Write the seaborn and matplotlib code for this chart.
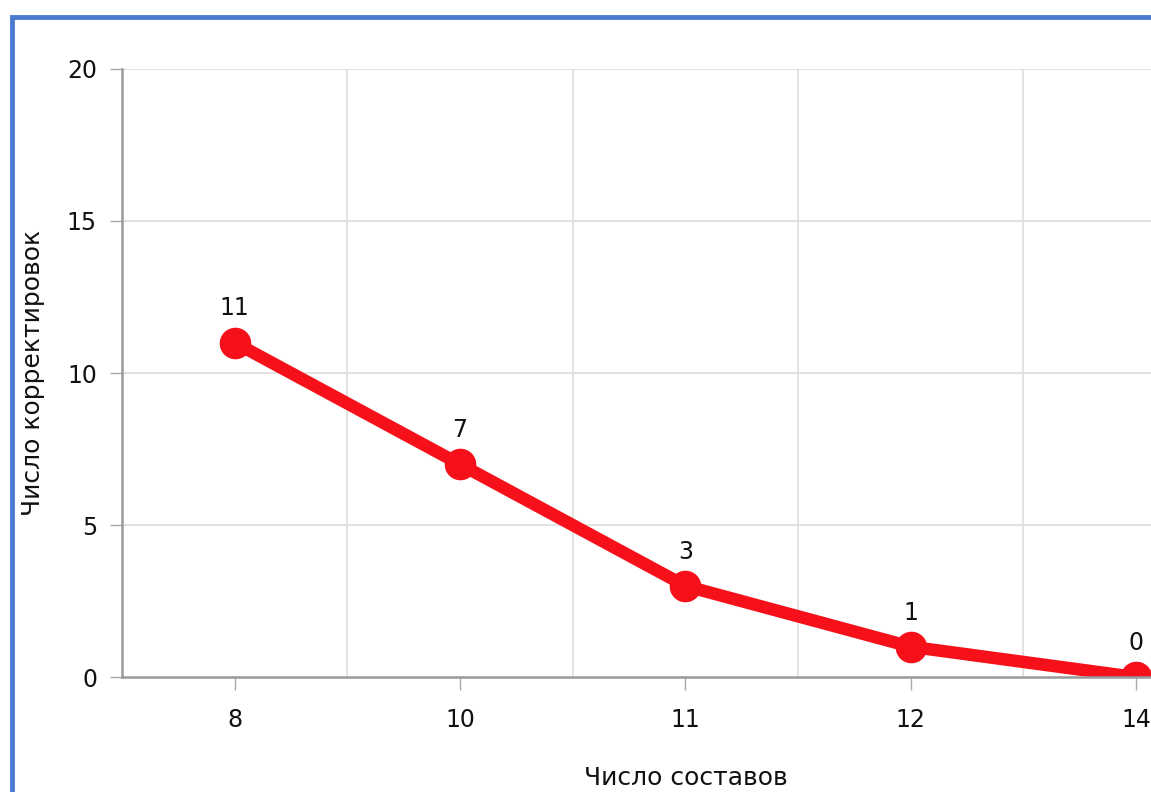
import matplotlib
matplotlib.use("Agg")
import matplotlib.pyplot as plt
import seaborn as sns
import pandas as pd
from matplotlib.patches import Rectangle

# data
sostavy = ["8", "10", "11", "12", "14"]
korrektirovki = [11, 7, 3, 1, 0]

df = pd.DataFrame({"Число составов": sostavy, "Число корректировок": korrektirovki})

sns.set_style("white")
plt.rcParams["font.family"] = ["DejaVu Sans"]

fig = plt.figure(figsize=(11.51, 7.92), dpi=100)
# axes runs past the right edge, as in the cropped reference
ax = fig.add_axes([0.106, 0.145, 0.979, 0.768])

sns.pointplot(data=df, x="Число составов", y="Число корректировок", color="#f5101a",
              markersize=16, linewidth=9, ax=ax)

ax.set_xlim(-0.5, 4.5)
ax.set_ylim(0, 20)
ax.set_yticks([0, 5, 10, 15, 20])

# grid lines between the categories and at the y ticks
for xb in [0.5, 1.5, 2.5, 3.5, 4.5]:
    ax.axvline(xb, color="#dddddd", lw=1.2, zorder=0)
for yv in [5, 10, 15, 20]:
    ax.axhline(yv, color="#dddddd", lw=1.2, zorder=0)

for s in ["top", "right"]:
    ax.spines[s].set_visible(False)
for s in ["left", "bottom"]:
    ax.spines[s].set_color("#999999")
    ax.spines[s].set_linewidth(1.8)

ax.tick_params(axis="both", bottom=True, left=True, length=9, width=1, color="#aaaaaa",
               labelsize=17, labelcolor="#111111")
ax.tick_params(axis="y", pad=9)
ax.tick_params(axis="x", pad=13)

for i, v in enumerate(korrektirovki):
    ax.annotate(str(v), (i, v), xytext=(0, 16), textcoords="offset points",
                ha="center", va="bottom", fontsize=17, color="#111111")

ax.set_xlabel("Число составов", fontsize=18, color="#111111", labelpad=25)
ax.set_ylabel("Число корректировок", fontsize=18, color="#111111", labelpad=16)

# blue frame around the image
fig.patches.append(Rectangle((0.010, -0.5), 1.5, 1.478,
                             transform=fig.transFigure, fill=False,
                             edgecolor="#4a7bd0", lw=3.5, zorder=10))

fig.savefig("out.png", dpi=100)
